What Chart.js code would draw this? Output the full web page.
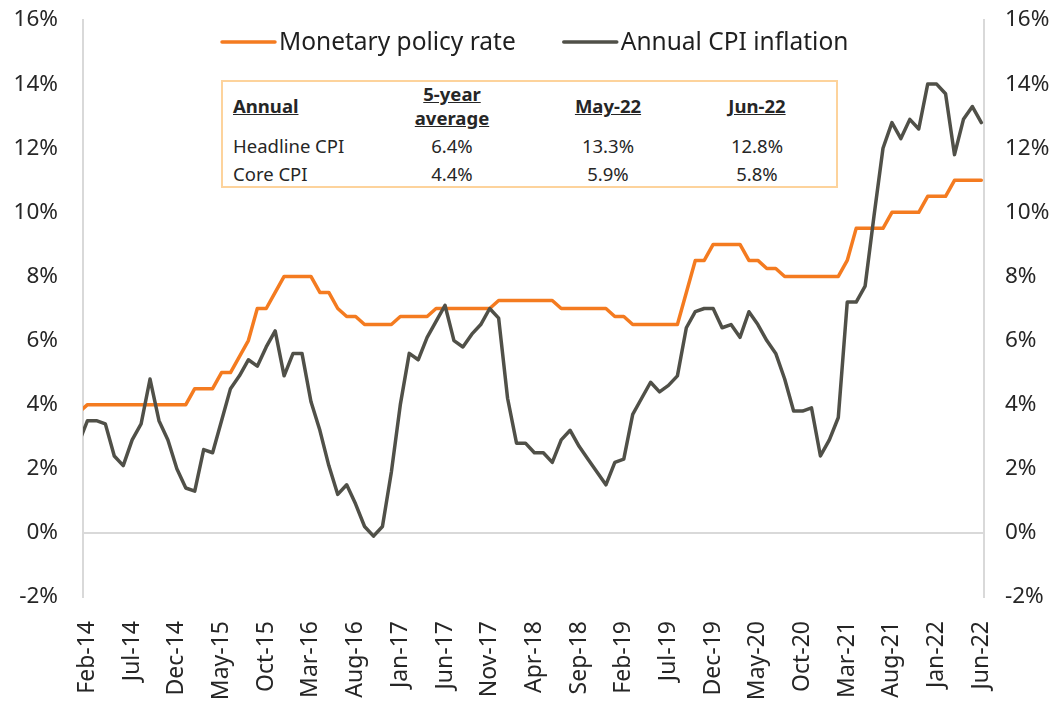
<!DOCTYPE html>
<html>
<head>
<meta charset="utf-8">
<script src="https://cdn.jsdelivr.net/npm/chart.js@4.4.1/dist/chart.umd.min.js"></script>
<style>
  html, body { margin: 0; padding: 0; background: #fff; }
  #wrap { position: relative; width: 1060px; height: 702px; }
  #rates { position: absolute; left: 0; top: 0; }
  #summary {
    position: absolute; left: 221px; top: 80px; width: 617px; height: 108px;
    box-sizing: border-box; border: 2px solid #fdd39c; background: #fff;
    font-family: "Noto Sans", sans-serif; font-size: 18.5px; color: #262626;
  }
  #summary table { border-collapse: collapse; table-layout: fixed; width: 100%; }
  #summary td { padding: 0; text-align: center; vertical-align: middle; white-space: nowrap; }
  #summary td:first-child { text-align: left; padding-left: 10px; }
  #summary tr.head td { height: 47px; font-weight: bold; text-decoration: underline; line-height: 24px; }
  #summary tr.r1 td { height: 30px; }
  #summary tr.r2 td { height: 27px; }
</style>
</head>
<body>
<div id="wrap">
  <canvas id="rates" width="1060" height="702"></canvas>
  <div id="summary"></div>
</div>
<script>
// x axis tick labels, every 5 months (Feb-14 = 0 ... Jun-22 = 100)
const tickLabels = ["Feb-14", "Jul-14", "Dec-14", "May-15", "Oct-15", "Mar-16", "Aug-16",
  "Jan-17", "Jun-17", "Nov-17", "Apr-18", "Sep-18", "Feb-19", "Jul-19", "Dec-19",
  "May-20", "Oct-20", "Mar-21", "Aug-21", "Jan-22", "Jun-22"];

// monthly values, first entry is Jan-14 (it sits just left of the axis and gets clipped)
const policyRate = [
  3.75,
  4, 4, 4, 4, 4, 4, 4, 4, 4, 4, 4, 4,
  4.5, 4.5, 4.5, 5, 5, 5.5, 6, 7, 7, 7.5, 8, 8, 8, 8,
  7.5, 7.5, 7, 6.75, 6.75, 6.5, 6.5, 6.5, 6.5, 6.75, 6.75, 6.75, 6.75,
  7, 7, 7, 7, 7, 7, 7, 7.25, 7.25, 7.25, 7.25, 7.25, 7.25, 7.25,
  7, 7, 7, 7, 7, 7, 6.75, 6.75, 6.5, 6.5, 6.5, 6.5, 6.5, 6.5,
  7.5, 8.5, 8.5, 9, 9, 9, 9, 8.5, 8.5, 8.25, 8.25,
  8, 8, 8, 8, 8, 8, 8, 8.5, 9.5, 9.5, 9.5, 9.5,
  10, 10, 10, 10, 10.5, 10.5, 10.5, 11, 11, 11, 11
];
const cpiInflation = [
  2.8,
  3.5, 3.5, 3.4, 2.4, 2.1, 2.9, 3.4, 4.8, 3.5, 2.9, 2.0, 1.4,
  1.3, 2.6, 2.5, 3.5, 4.5, 4.9, 5.4, 5.2, 5.8, 6.3, 4.9, 5.6,
  5.6, 4.1, 3.2, 2.1, 1.2, 1.5, 0.9, 0.2, -0.1, 0.2, 1.9, 4.0,
  5.6, 5.4, 6.1, 6.6, 7.1, 6.0, 5.8, 6.2, 6.5, 7.0, 6.7, 4.2,
  2.8, 2.8, 2.5, 2.5, 2.2, 2.9, 3.2, 2.7, 2.3, 1.9, 1.5, 2.2,
  2.3, 3.7, 4.2, 4.7, 4.4, 4.6, 4.9, 6.4, 6.9, 7.0, 7.0, 6.4,
  6.5, 6.1, 6.9, 6.5, 6.0, 5.6, 4.8, 3.8, 3.8, 3.9, 2.4, 2.9,
  3.6, 7.2, 7.2, 7.7, 9.9, 12.0, 12.8, 12.3, 12.9, 12.6, 14.0, 14.0,
  13.7, 11.8, 12.9, 13.3, 12.8
];

// summary box
const tableHead = ["Annual", "5-year<br>average", "May-22", "Jun-22"];
const tableRows = [
  ["Headline CPI", "6.4%", "13.3%", "12.8%"],
  ["Core CPI", "4.4%", "5.9%", "5.8%"]
];

const colWidths = [162, 134, 178, 120, 19];
let html = '<table><colgroup>' + colWidths.map(w => '<col style="width:' + w + 'px">').join('') + '</colgroup>';
html += '<tr class="head">' + tableHead.map(t => '<td>' + t + '</td>').join('') + '<td></td></tr>';
tableRows.forEach((r, k) => {
  html += '<tr class="r' + (k + 1) + '">' + r.map(t => '<td>' + t + '</td>').join('') + '<td></td></tr>';
});
html += '</table>';
document.getElementById('summary').innerHTML = html;

const toPoints = arr => arr.map((v, k) => ({ x: k - 1, y: v }));

// legend drawn inside the plot, one row near the top
const topLegend = {
  id: 'topLegend',
  afterDraw(chart) {
    const ctx = chart.ctx;
    ctx.save();
    ctx.font = '24.5px "Noto Sans"';
    ctx.textBaseline = 'middle';
    let x = 222;
    const y = 42;
    chart.data.datasets.forEach(ds => {
      ctx.strokeStyle = ds.borderColor;
      ctx.lineWidth = 3.5;
      ctx.lineCap = 'round';
      ctx.beginPath();
      ctx.moveTo(x, y);
      ctx.lineTo(x + 53, y);
      ctx.stroke();
      ctx.fillStyle = '#1f1f1f';
      ctx.fillText(ds.label, x + 57, y + 1);
      x += 57 + ctx.measureText(ds.label).width + 48;
    });
    ctx.restore();
  }
};

const tickFont = { family: '"Noto Sans"', size: 22.5 };
// keep the tick padding from pushing the plot top down
const noVerticalPadding = s => { s.paddingTop = 0; s.paddingBottom = 0; };

new Chart(document.getElementById('rates'), {
  type: 'line',
  data: {
    datasets: [
      {
        label: 'Monetary policy rate',
        data: toPoints(policyRate),
        borderColor: '#f47b20',
        borderWidth: 3.5,
        order: 1
      },
      {
        label: 'Annual CPI inflation',
        data: toPoints(cpiInflation),
        borderColor: '#505048',
        borderWidth: 3.5,
        order: 0
      }
    ]
  },
  options: {
    responsive: false,
    animation: false,
    layout: { padding: { top: 20 } },
    elements: {
      point: { radius: 0 },
      line: { tension: 0, borderJoinStyle: 'round', borderCapStyle: 'round', fill: false }
    },
    plugins: {
      legend: { display: false },
      tooltip: { enabled: false }
    },
    scales: {
      x: {
        type: 'linear',
        min: -0.5,
        max: 100.3,
        grid: { display: false },
        border: { display: false },
        afterBuildTicks: s => { s.ticks = tickLabels.map((_, k) => ({ value: k * 5 })); },
        afterFit: s => { s.height = 105; },
        ticks: {
          autoSkip: false,
          minRotation: 90,
          maxRotation: 90,
          padding: 16,
          color: '#262626',
          font: { family: '"Noto Sans"', size: 23 },
          callback: v => tickLabels[v / 5]
        }
      },
      y: {
        position: 'left',
        min: -2,
        max: 16,
        afterFit: s => { s.width = 83; noVerticalPadding(s); },
        border: { display: true, color: '#d9d9d9', width: 2 },
        grid: {
          drawTicks: false,
          lineWidth: 2,
          color: c => (c.tick && c.tick.value === 0 ? '#d9d9d9' : 'rgba(0,0,0,0)')
        },
        ticks: { stepSize: 2, padding: 25, color: '#262626', font: tickFont, callback: v => v + '%' }
      },
      y2: {
        position: 'right',
        min: -2,
        max: 16,
        afterFit: s => { s.width = 76; noVerticalPadding(s); },
        border: { display: true, color: '#d9d9d9', width: 2 },
        grid: { display: false, drawTicks: false },
        ticks: { stepSize: 2, padding: 21, color: '#262626', font: tickFont, callback: v => v + '%' }
      }
    }
  },
  plugins: [topLegend]
});
</script>
</body>
</html>
